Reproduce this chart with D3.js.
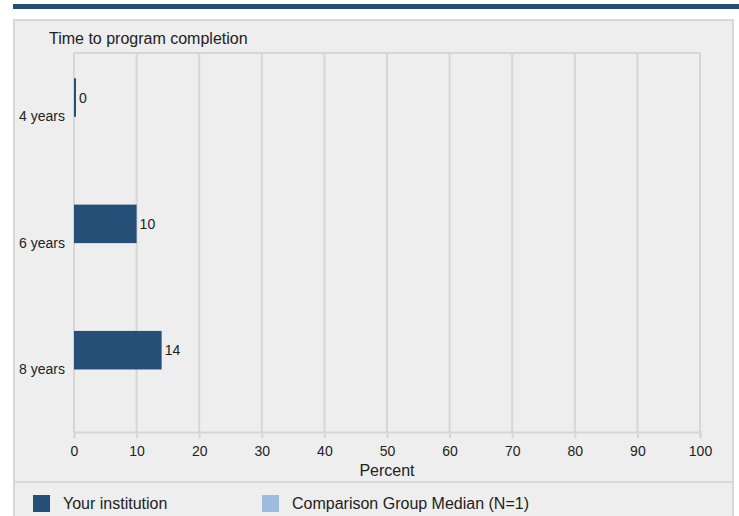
<!DOCTYPE html>
<html>
<head>
<meta charset="utf-8">
<script src="https://cdn.jsdelivr.net/npm/d3@7"></script>
<style>
  body { margin: 0; background: #fff; }
  svg text { font-family: "Liberation Sans", Arial, sans-serif; fill: #222; }
</style>
</head>
<body>
<script>
// chart data
var categories = ['4 years', '6 years', '8 years'];
var institutionValues = [0, 10, 14];
var comparisonValues = [null, null, null];
var xTicks = [0, 10, 20, 30, 40, 50, 60, 70, 80, 90, 100];
var legendLabels = ['Your institution', 'Comparison Group Median (N=1)'];
var legendColors = ['#264f78', '#9dbbe0'];

var width = 739, height = 516;
var plot = { left: 74, right: 700, top: 53, bottom: 432 };

var svg = d3.select('body').append('svg')
  .attr('width', width)
  .attr('height', height);

// top rule
svg.append('rect')
  .attr('x', 13).attr('y', 4)
  .attr('width', width - 13).attr('height', 5)
  .attr('fill', '#264f78');

// panel background
svg.append('rect')
  .attr('x', 14).attr('y', 20)
  .attr('width', 719).attr('height', 510)
  .attr('fill', '#eeeeee')
  .attr('stroke', '#d8d8d8')
  .attr('stroke-width', 2);

// legend separator
svg.append('line')
  .attr('x1', 14).attr('x2', 733)
  .attr('y1', 482).attr('y2', 482)
  .attr('stroke', '#d8d8d8')
  .attr('stroke-width', 2);

var x = d3.scaleLinear().domain([0, 100]).range([plot.left, plot.right]);
var y = d3.scaleBand().domain(categories).range([plot.top, plot.bottom]);

// grid
svg.append('g').selectAll('line')
  .data(xTicks)
  .enter().append('line')
  .attr('x1', function(d) { return x(d); })
  .attr('x2', function(d) { return x(d); })
  .attr('y1', plot.top)
  .attr('y2', plot.bottom)
  .attr('stroke', '#d6d6d6')
  .attr('stroke-width', 2);

svg.append('line')
  .attr('x1', plot.left).attr('x2', plot.right)
  .attr('y1', plot.top).attr('y2', plot.top)
  .attr('stroke', '#d6d6d6')
  .attr('stroke-width', 2);

// x axis
var xAxis = svg.append('g')
  .attr('transform', 'translate(0,' + plot.bottom + ')')
  .call(d3.axisBottom(x).tickValues(xTicks).tickSize(6).tickPadding(8));
xAxis.select('.domain').attr('stroke', '#d6d6d6').attr('stroke-width', 2);
xAxis.selectAll('.tick line').attr('stroke', '#d6d6d6').attr('stroke-width', 2);
xAxis.selectAll('.tick text')
  .style('font-family', '"Liberation Sans", Arial, sans-serif')
  .style('font-size', '14px')
  .attr('fill', '#222');

svg.append('text')
  .attr('x', x(50)).attr('y', 476)
  .attr('text-anchor', 'middle')
  .style('font-size', '16px')
  .text('Percent');

// title
svg.append('text')
  .attr('x', 49).attr('y', 44)
  .style('font-size', '16px')
  .text('Time to program completion');

// category labels
svg.append('g').selectAll('text')
  .data(categories)
  .enter().append('text')
  .attr('x', 65)
  .attr('y', function(d) { return y(d) + y.bandwidth() / 2 + 5; })
  .attr('text-anchor', 'end')
  .style('font-size', '14px')
  .text(function(d) { return d; });

// bars
var barTop = function(d, i) { return y(categories[i]) + y.bandwidth() * 0.2; };
var barH = y.bandwidth() * 0.305;

svg.append('g').selectAll('rect')
  .data(institutionValues)
  .enter().append('rect')
  .attr('x', x(0))
  .attr('y', barTop)
  .attr('width', function(d) { return Math.max(2, x(d) - x(0)); })
  .attr('height', barH)
  .attr('fill', legendColors[0]);

svg.append('g').selectAll('text')
  .data(institutionValues)
  .enter().append('text')
  .attr('x', function(d) { return Math.max(x(0) + 2, x(d)) + 3; })
  .attr('y', function(d, i) { return barTop(d, i) + barH / 2 + 5; })
  .style('font-size', '14px')
  .text(function(d) { return d; });

// legend
var legend = svg.append('g').selectAll('g')
  .data(legendLabels)
  .enter().append('g')
  .attr('transform', function(d, i) { return 'translate(' + (33 + i * 229) + ',495)'; });

legend.append('rect')
  .attr('width', 17).attr('height', 17)
  .attr('fill', function(d, i) { return legendColors[i]; });

legend.append('text')
  .attr('x', 30).attr('y', 14)
  .style('font-size', '16px')
  .text(function(d) { return d; });
</script>
</body>
</html>
